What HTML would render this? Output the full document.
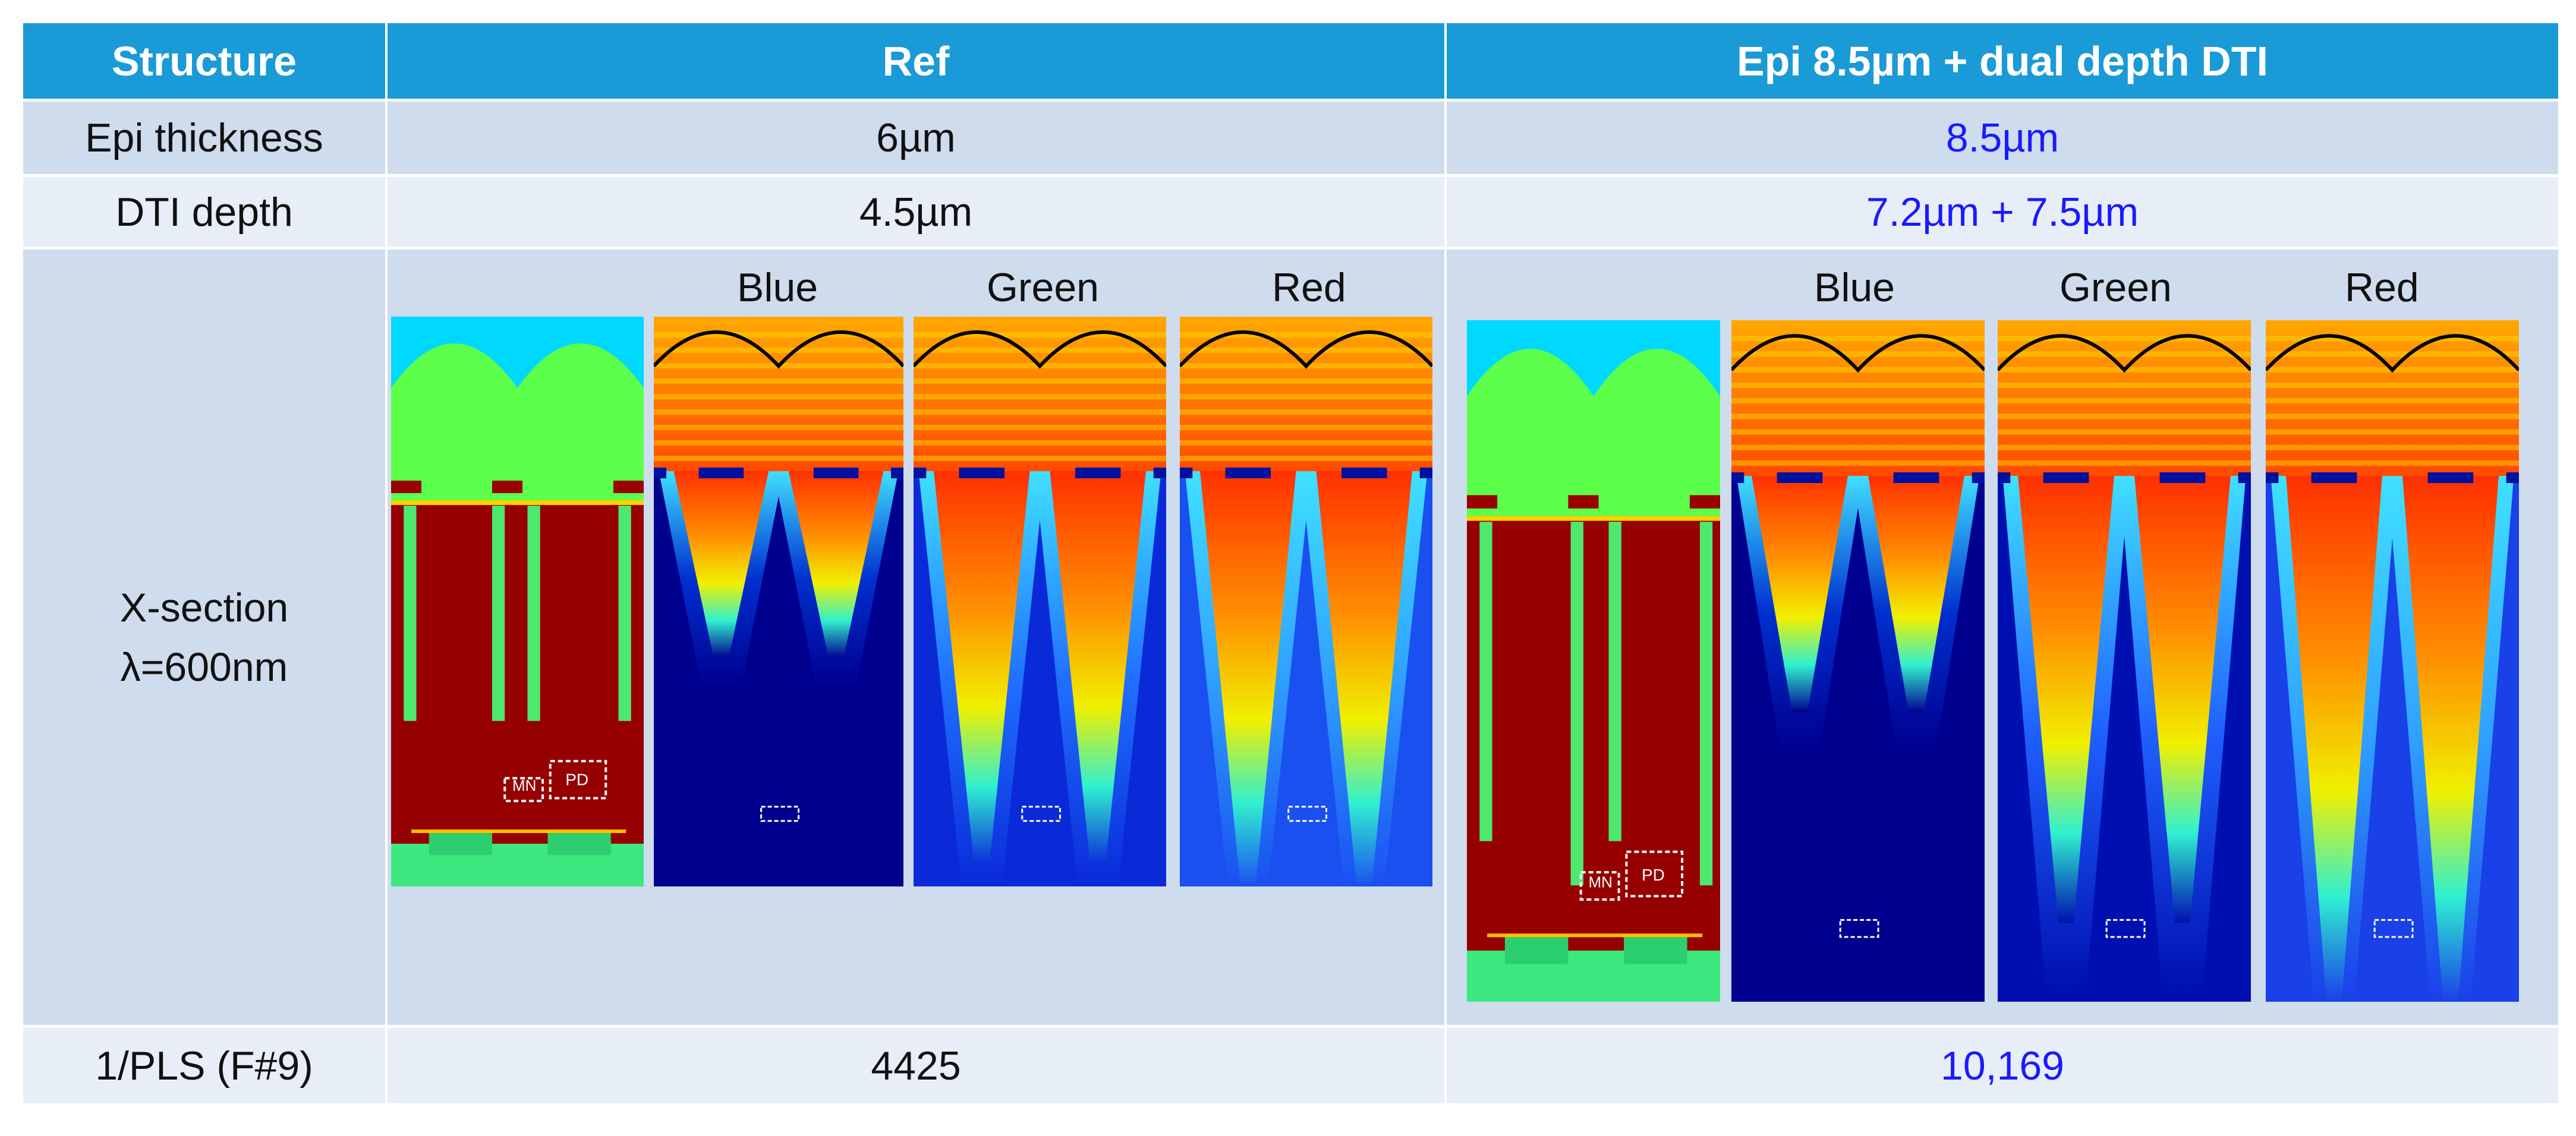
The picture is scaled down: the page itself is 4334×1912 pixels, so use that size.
<!DOCTYPE html>
<html><head><meta charset="utf-8">
<style>
body{margin:0;width:4334px;height:1912px;background:#fff;overflow:hidden;font-family:"Liberation Sans Narrow","Liberation Sans",sans-serif;}
.c{position:absolute;display:flex;align-items:center;justify-content:center;font-size:68px;color:#111;}
.h{background:#1a9ad6;color:#fff;font-weight:bold;font-size:70px;}
.r1{background:#cfdcee}.r2{background:#e8eef8}
.blue{color:#1a1aff}
.lbl{position:absolute;font-size:68px;color:#111;}
svg.p{position:absolute}
</style></head><body>
<div class="c h" style="left:39px;top:39px;width:609px;height:127px">Structure</div>
<div class="c h" style="left:652px;top:39px;width:1778px;height:127px">Ref</div>
<div class="c h" style="left:2434px;top:39px;width:1870px;height:127px">Epi 8.5µm + dual depth DTI</div>

<div class="c r1" style="left:39px;top:171px;width:609px;height:122px">Epi thickness</div>
<div class="c r1" style="left:652px;top:171px;width:1778px;height:122px">6µm</div>
<div class="c r1 blue" style="left:2434px;top:171px;width:1870px;height:122px">8.5µm</div>

<div class="c r2" style="left:39px;top:298px;width:609px;height:117px">DTI depth</div>
<div class="c r2" style="left:652px;top:298px;width:1778px;height:117px">4.5µm</div>
<div class="c r2 blue" style="left:2434px;top:298px;width:1870px;height:117px">7.2µm + 7.5µm</div>

<div class="c r1" style="left:39px;top:420px;width:609px;height:1305px;flex-direction:column;line-height:100px"><div>X-section</div><div>λ=600nm</div></div>
<div class="c r1" style="left:652px;top:420px;width:1778px;height:1305px"></div>
<div class="c r1" style="left:2434px;top:420px;width:1870px;height:1305px"></div>

<div class="c r2" style="left:39px;top:1730px;width:609px;height:127px">1/PLS (F#9)</div>
<div class="c r2" style="left:652px;top:1730px;width:1778px;height:127px">4425</div>
<div class="c r2 blue" style="left:2434px;top:1730px;width:1870px;height:127px">10,169</div>

<div class="lbl" style="left:1240px;top:445px">Blue</div>
<div class="lbl" style="left:1660px;top:445px">Green</div>
<div class="lbl" style="left:2140px;top:445px">Red</div>
<div class="lbl" style="left:3052px;top:445px">Blue</div>
<div class="lbl" style="left:3465px;top:445px">Green</div>
<div class="lbl" style="left:3945px;top:445px">Red</div>

<div id="panels"></div>
<script>
const NS='http://www.w3.org/2000/svg';
const host=document.getElementById('panels');
function mk(tag,attrs,parent){const e=document.createElementNS(NS,tag);for(const k in attrs)e.setAttribute(k,attrs[k]);parent.appendChild(e);return e;}
let gid=0;
function svgAt(x,y,w,h){const s=document.createElementNS(NS,'svg');s.setAttribute('class','p');s.setAttribute('width',w);s.setAttribute('height',h);s.style.left=x+'px';s.style.top=y+'px';host.appendChild(s);return s;}
function structPanel(x,y,w,h,band,bars,name){
  const s=svgAt(x,y,w,h);
  
  
  mk('rect',{x:0,y:0,width:w,height:h,fill:'#00d8ff'},s);
  const b=band;
  mk('path',{d:`M0 ${b} L0 ${b*0.4} Q${w*0.25} ${-b*0.1} ${w*0.5} ${b*0.4} Q${w*0.75} ${-b*0.1} ${w} ${b*0.4} L${w} ${b} Z`,fill:'#5cff4a'},s);
  mk('rect',{x:0,y:b*0.93,width:w,height:b*0.12,fill:'#5cff4a'},s);
  [0.0,0.4,0.88].forEach(f=>mk('rect',{x:w*f,y:b*0.92,width:w*0.12,height:b*0.07,fill:'#9b0000'},s));
  mk('rect',{x:0,y:b*1.03,width:w,height:h-b*1.03,fill:'#960000'},s);
  mk('rect',{x:0,y:b*1.03,width:w,height:8,fill:'#ffd000'},s);
  bars.forEach(([f,len])=>mk('rect',{x:w*f,y:b*1.06,width:w*0.05,height:(h-b)*len,fill:'#4ee870'},s));
  mk('rect',{x:0,y:h*0.925,width:w,height:h*0.075,fill:'#3ee880'},s);
  mk('rect',{x:w*0.15,y:h*0.905,width:w*0.25,height:h*0.04,fill:'#2ccf70'},s);
  mk('rect',{x:w*0.62,y:h*0.905,width:w*0.25,height:h*0.04,fill:'#2ccf70'},s);
  mk('rect',{x:w*0.08,y:h*0.9,width:w*0.85,height:6,fill:'#ffc000'},s);
  mk('rect',{x:w*0.45,y:h*0.81,width:w*0.15,height:h*0.04,fill:'none',stroke:'#fff','stroke-width':4,'stroke-dasharray':'8 5'},s);
  mk('rect',{x:w*0.63,y:h*0.78,width:w*0.22,height:h*0.065,fill:'none',stroke:'#fff','stroke-width':4,'stroke-dasharray':'8 5'},s);
  const t=mk('text',{x:w*0.48,y:h*0.832,fill:'#fff','font-size':26,'font-family':'Liberation Sans'},s);t.textContent='MN';
  const t2=mk('text',{x:w*0.69,y:h*0.822,fill:'#fff','font-size':28,'font-family':'Liberation Sans'},s);t2.textContent='PD';
  return s;
}
function heatPanel(x,y,w,h,band,coneLen,bg,halo,name){
  const s=svgAt(x,y,w,h);
  
  
  const id='g'+(gid++);
  const defs=mk('defs',{},s);
  const lg=mk('linearGradient',{id:id,x1:0,y1:0,x2:0,y2:1},defs);
  [[0,'#ff3000'],[0.35,'#ff9000'],[0.6,'#f0f000'],[0.8,'#30f0d0'],[1,bg]].forEach(([o,c])=>mk('stop',{offset:o,'stop-color':c},lg));
  const lh=mk('linearGradient',{id:id+'h',x1:0,y1:0,x2:0,y2:1},defs);
  [[0,'#40e0ff'],[0.5,halo],[1,bg]].forEach(([o,c])=>mk('stop',{offset:o,'stop-color':c},lh));
  const lb=mk('linearGradient',{id:id+'b',x1:0,y1:0,x2:0,y2:1},defs);
  [[0,'#ffa800'],[0.5,'#ff7a00'],[1,'#ff4a00']].forEach(([o,c])=>mk('stop',{offset:o,'stop-color':c},lb));
  mk('rect',{x:0,y:0,width:w,height:h,fill:bg},s);
  mk('rect',{x:0,y:0,width:w,height:band,fill:`url(#${id}b)`},s);
  for(let i=0;i<9;i++)mk('rect',{x:0,y:band*(0.1+i*0.1),width:w,height:band*0.035,fill:'#ffd400',opacity:0.5},s);
  const L=(h-band)*coneLen;
  [0.27,0.73].forEach(c=>{
    mk('path',{d:`M${w*(c-0.25)} ${band} L${w*(c+0.25)} ${band} L${w*(c+0.08)} ${band+Math.min(h-band,L*1.15)} L${w*(c-0.08)} ${band+Math.min(h-band,L*1.15)} Z`,fill:`url(#${id}h)`},s);
  });
  [0.27,0.73].forEach(c=>{
    mk('path',{d:`M${w*(c-0.19)} ${band} L${w*(c+0.19)} ${band} L${w*(c+0.03)} ${band+L} L${w*(c-0.03)} ${band+L} Z`,fill:`url(#${id})`},s);
    mk('rect',{x:w*(c-0.09),y:band-6,width:w*0.18,height:18,fill:'#0010a0'},s);
  });
  [0,1].forEach(c=>mk('rect',{x:w*c-w*0.05,y:band-6,width:w*0.1,height:18,fill:'#0010a0'},s));
  mk('path',{d:`M0 ${band*0.32} Q${w*0.25} ${-band*0.12} ${w*0.5} ${band*0.32} Q${w*0.75} ${-band*0.12} ${w} ${band*0.32}`,fill:'none',stroke:'#000','stroke-width':6},s);
  mk('rect',{x:w*0.43,y:h*(h>1000?0.88:0.86),width:w*0.15,height:h*0.025,fill:'none',stroke:'#fff','stroke-width':3,'stroke-dasharray':'7 4'},s);
  return s;
}
structPanel(658,533,425,959,300,[[0.05,0.55],[0.4,0.55],[0.54,0.55],[0.9,0.55]],'ref-structure-panel');
heatPanel(1100,533,420,959,260,0.45,'#00008f','#0030d0','ref-blue-panel');
heatPanel(1537,533,425,959,260,0.95,'#0a2ad8','#2070ff','ref-green-panel');
heatPanel(1985,533,425,959,260,1.0,'#1a50f0','#30a0ff','ref-red-panel');
structPanel(2468,539,426,1147,320,[[0.05,0.65],[0.41,0.74],[0.56,0.65],[0.92,0.74]],'new-structure-panel');
heatPanel(2913,539,426,1147,262,0.45,'#00008f','#0030d0','new-blue-panel');
heatPanel(3361,539,426,1147,262,0.85,'#0010b0','#2060ff','new-green-panel');
heatPanel(3812,539,426,1147,262,1.0,'#1a40e8','#30a0ff','new-red-panel');
</script>
</body></html>
